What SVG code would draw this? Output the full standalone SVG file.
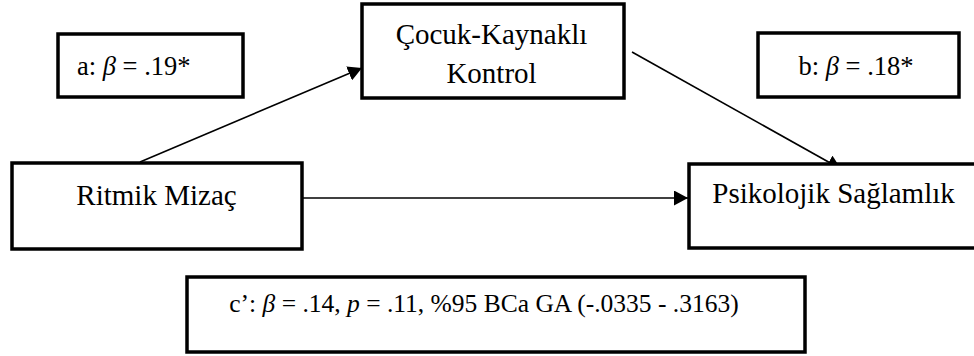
<svg xmlns="http://www.w3.org/2000/svg" width="974" height="356" viewBox="0 0 974 356">
<style>
.box{fill:#fff;stroke:#000;stroke-width:3.5}
.t{font-family:"Liberation Serif","Times New Roman",serif;font-size:29px;fill:#000}
.l{font-family:"Liberation Serif","Times New Roman",serif;font-size:26.5px;fill:#000}
.lc{font-family:"Liberation Serif","Times New Roman",serif;font-size:25.5px;fill:#000}
.c{stroke:#000;stroke-width:1.6;fill:none}
</style>
<defs>
<marker id="ah" markerWidth="15" markerHeight="15" refX="14" refY="7.5" orient="auto" markerUnits="userSpaceOnUse">
<path d="M0,0 L14,7.5 L0,15 Z" fill="#000"/>
</marker>
</defs>
<rect width="974" height="356" fill="#fff"/>
<g id="connectors">
<line class="c" x1="140" y1="162" x2="362" y2="68" marker-end="url(#ah)"/>
<line class="c" x1="632" y1="52" x2="841" y2="169" marker-end="url(#ah)"/>
<line class="c" x1="302" y1="198" x2="688" y2="198" marker-end="url(#ah)"/>
</g>
<g id="label-a">
<rect class="box" x="58" y="34" width="185" height="63"/>
<text class="l" x="77" y="75">a: <tspan font-style="italic">β</tspan> = .19*</text>
</g>
<g id="node-cocuk">
<rect class="box" x="362" y="4" width="262" height="94"/>
<text class="t" x="491.5" y="44" text-anchor="middle">Çocuk-Kaynaklı</text>
<text class="t" x="491.5" y="83" text-anchor="middle">Kontrol</text>
</g>
<g id="label-b">
<rect class="box" x="758" y="33" width="201" height="64"/>
<text class="l" x="856" y="75" text-anchor="middle">b: <tspan font-style="italic">β</tspan> = .18*</text>
</g>
<g id="node-ritmik">
<rect class="box" x="12" y="163" width="290" height="86"/>
<text class="t" x="156.5" y="205" text-anchor="middle">Ritmik Mizaç</text>
</g>
<g id="node-psikolojik">
<rect class="box" x="689" y="164" width="300" height="84"/>
<text class="t" x="833.5" y="203" text-anchor="middle">Psikolojik Sağlamlık</text>
</g>
<g id="label-c">
<rect class="box" x="187" y="277" width="618" height="75"/>
<text class="lc" x="484" y="312" text-anchor="middle">c’: <tspan font-style="italic">β</tspan> = .14, <tspan font-style="italic">p</tspan> = .11, %95 BCa GA (-.0335 - .3163)</text>
</g>
</svg>
